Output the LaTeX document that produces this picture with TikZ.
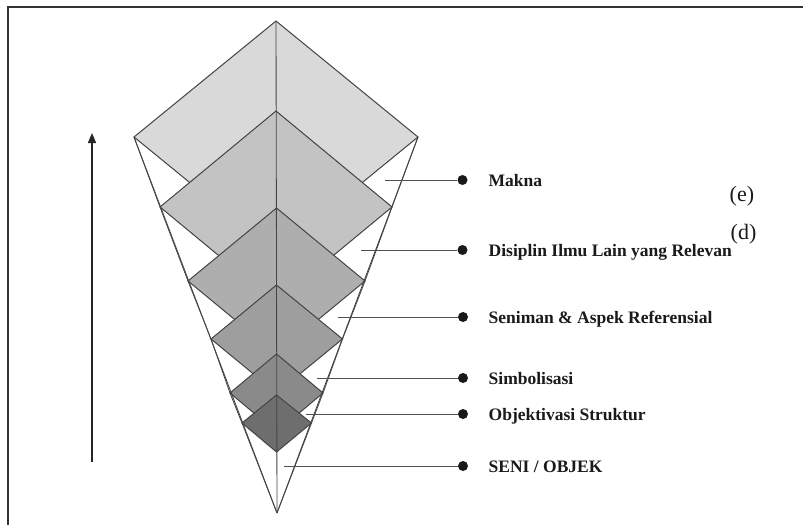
\documentclass[tikz,border=0pt]{standalone}
\usepackage{fontspec}
\setmainfont{Liberation Serif}
\usetikzlibrary{arrows.meta}
\definecolor{edgec}{HTML}{444444}
\definecolor{linec}{HTML}{505050}
\definecolor{txtc}{HTML}{1A1A1A}
\definecolor{gA}{RGB}{217,217,217}
\definecolor{gB}{RGB}{195,195,195}
\definecolor{gC}{RGB}{174,174,174}
\definecolor{gD}{RGB}{158,158,158}
\definecolor{gE}{RGB}{138,138,138}
\definecolor{gF}{RGB}{110,110,110}
\tikzset{
  facet/.style={draw=edgec, line width=1.0pt, line join=miter},
  conel/.style={draw=edgec, line width=0.85pt},
  leader/.style={draw=linec, line width=1.0pt},
  dotn/.style={circle, fill=black!90, inner sep=0pt, minimum size=10pt},
  lab/.style={anchor=base west, inner sep=0pt, text=txtc, font=\bfseries\fontsize{17.5}{21}\selectfont},
  paren/.style={anchor=base west, inner sep=0pt, text=txtc, font=\fontsize{22}{25}\selectfont},
  frame/.style={draw=black!80, line width=1.6pt},
  upar/.style={draw=black!85, line width=1.4pt, -{Triangle[length=10pt,width=8pt]}}
}
\begin{document}
\begin{tikzpicture}[x=1pt,y=-1pt]
\useasboundingbox (0,0) rectangle (803,525);
\fill[white] (0,0) rectangle (803,525);
% frame
\coordinate (f1) at (803,7);
\coordinate (f2) at (8,7);
\coordinate (f3) at (8,525);
\draw[frame] (f1) -- (f2) -- (f3);
% arrow
\coordinate (ar0) at (92,462);
\coordinate (ar1) at (92,133);
\draw[upar] (ar0) -- (ar1);
% diamond corners
\coordinate (L1) at (134,137); \coordinate (T1) at (276,21);    \coordinate (R1) at (418,137);   \coordinate (B1) at (276,253);
\coordinate (L2) at (160,207); \coordinate (T2) at (276,111);   \coordinate (R2) at (392,207);   \coordinate (B2) at (276,303);
\coordinate (L3) at (188,281); \coordinate (T3) at (276.5,208); \coordinate (R3) at (365,281);   \coordinate (B3) at (276.5,354);
\coordinate (L4) at (211,339); \coordinate (T4) at (276.5,285); \coordinate (R4) at (342.5,339); \coordinate (B4) at (276.5,393);
\coordinate (L5) at (230,393); \coordinate (T5) at (276.5,354); \coordinate (R5) at (323,393);   \coordinate (B5) at (276.5,432);
\coordinate (L6) at (242,423); \coordinate (T6) at (276.5,395); \coordinate (R6) at (311.5,423); \coordinate (B6) at (276.5,452);
\coordinate (A) at (277,513);
% diamonds
\draw[facet, fill=gA] (L1) -- (T1) -- (R1) -- (B1) -- cycle;
\draw[facet, fill=gB] (L2) -- (T2) -- (R2) -- (B2) -- cycle;
\draw[facet, fill=gC] (L3) -- (T3) -- (R3) -- (B3) -- cycle;
\draw[facet, fill=gD] (L4) -- (T4) -- (R4) -- (B4) -- cycle;
\draw[facet, fill=gE] (L5) -- (T5) -- (R5) -- (B5) -- cycle;
\draw[facet, fill=gF] (L6) -- (T6) -- (R6) -- (B6) -- cycle;
% cone edges
\draw[conel] (T1) -- (A);
\draw[conel] (L1) -- (A);
\draw[conel] (R1) -- (A);
\draw[conel] (L1) -- (L2) -- (L3) -- (L4) -- (L5) -- (L6) -- (A);
\draw[conel] (R1) -- (R2) -- (R3) -- (R4) -- (R5) -- (R6) -- (A);
% leaders and dots
\coordinate (s1) at (385,180); \node[dotn] (d1) at (462.5,180) {};
\coordinate (s2) at (361,250); \node[dotn] (d2) at (462.5,250) {};
\coordinate (s3) at (338,317); \node[dotn] (d3) at (463,317) {};
\coordinate (s4) at (317,378); \node[dotn] (d4) at (463,378) {};
\coordinate (s5) at (306,414); \node[dotn] (d5) at (463,414) {};
\coordinate (s6) at (284,466); \node[dotn] (d6) at (463,466) {};
\draw[leader] (s1) -- (d1);
\draw[leader] (s2) -- (d2);
\draw[leader] (s3) -- (d3);
\draw[leader] (s4) -- (d4);
\draw[leader] (s5) -- (d5);
\draw[leader] (s6) -- (d6);
% labels
\node[lab] (t1) at (488.5,186) {Makna};
\node[lab] (t2) at (488.5,256) {Disiplin Ilmu Lain yang Relevan};
\node[lab] (t3) at (488.5,323.5) {Seniman \& Aspek Referensial};
\node[lab] (t4) at (488.5,384) {Simbolisasi};
\node[lab] (t5) at (488.5,420.5) {Objektivasi Struktur};
\node[lab] (t6) at (488.5,472.5) {SENI / OBJEK};
\node[paren] (pe) at (729.5,201) {(e)};
\node[paren] (pd) at (730.5,239.5) {(d)};
\end{tikzpicture}
\end{document}
